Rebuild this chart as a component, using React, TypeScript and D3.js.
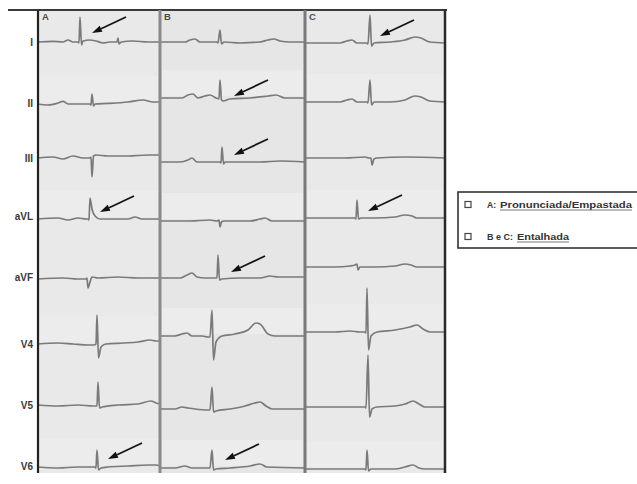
import React from "react";
import * as d3 from "d3";

// ---- data ----
const columns = ["A", "B", "C"];
const leads = ["I", "II", "III", "aVL", "aVF", "V4", "V5", "V6"];
// panel start time (ms) and duration (ms) on the strip
const panelStart = [0, 2440, 5340];
const panelDuration = [2440, 2900, 2800];
// lead baselines (row offset, mV-equivalent from top) per column
const baselineA = [1.6, 4.7, 7.4, 10.45, 13.45, 16.7, 19.75, 22.85];
const baselineB = [1.6, 4.4, 7.6, 10.55, 13.4, 16.3, 19.95, 22.9];
const baselineC = [1.65, 4.6, 7.4, 10.4, 12.85, 16.1, 19.85, 22.95];
const labelRows = [1.6, 4.65, 7.4, 10.3, 13.35, 16.7, 19.75, 22.8];

// traces: [ms, mV]
const traceA: [number, number][][] = [
  [[0,0],[300,0.03],[500,0],[600,0.1],[700,0],[800,0],[820,-0.05],[840,1.25],[870,-0.15],[900,0.05],[1040,0.1],[1160,0.05],[1300,-0.05],[1440,0],[1580,0],[1600,0.2],[1620,-0.1],[1660,0],[1900,0.05],[2200,0],[2440,0]],
  [[0,0],[200,-0.05],[400,0.05],[500,0.13],[600,0],[900,0],[1040,0],[1060,-0.05],[1080,0.5],[1110,-0.1],[1140,0],[1400,0.03],[1800,0.1],[2100,0.2],[2300,0.1],[2440,0.1]],
  [[0,0],[300,0.05],[500,-0.05],[700,0.1],[900,0],[1040,0],[1060,0.05],[1080,-0.95],[1110,0.1],[1160,0.15],[1400,0.1],[1800,0.1],[2200,0.15],[2440,0.15]],
  [[0,0],[400,0.05],[600,-0.05],[800,0.05],[960,0],[1000,0],[1020,-0.05],[1040,1.05],[1080,0.5],[1140,0.15],[1240,0],[1500,0],[1800,0],[1940,0.1],[2080,0],[2440,0]],
  [[0,0],[500,0.05],[800,0],[960,0],[980,0.05],[1000,-0.45],[1040,-0.15],[1080,0.1],[1200,0.05],[1600,0.1],[2000,0.05],[2440,0.05]],
  [[0,0],[400,0.05],[700,0],[1000,-0.05],[1120,-0.05],[1160,0],[1180,1.45],[1210,-0.7],[1260,-0.15],[1360,0],[1700,0.05],[2000,0.1],[2240,0.2],[2360,0.15],[2440,0.15]],
  [[0,0],[400,-0.05],[800,0],[1100,-0.05],[1180,-0.05],[1200,1.15],[1230,-0.15],[1280,-0.1],[1600,0],[2000,0.05],[2260,0.2],[2360,0.1],[2440,0.05]],
  [[0,0],[400,-0.05],[800,0],[1140,0],[1160,-0.05],[1180,0.85],[1210,-0.15],[1260,-0.05],[1400,0],[1800,0.05],[2200,0.1],[2360,0.1],[2440,0.05]],
];
const traceB: [number, number][][] = [
  [[0,0],[500,0],[600,0.1],[700,0.15],[800,0],[1140,0],[1160,-0.05],[1200,0.6],[1230,-0.1],[1280,0],[1600,-0.05],[2000,0],[2160,0.1],[2280,0.15],[2400,0.05],[2600,0],[2900,0]],
  [[0,0],[440,0],[560,0.15],[660,0.2],[760,0],[900,0.1],[1000,0.15],[1120,0],[1180,-0.05],[1200,0.9],[1230,-0.1],[1260,-0.15],[1400,-0.05],[1800,0],[2160,0.1],[2320,0.15],[2500,0],[2900,0]],
  [[0,0],[400,0],[560,0.1],[640,0.2],[740,0],[1000,0],[1200,0],[1220,-0.05],[1240,0.75],[1270,-0.1],[1300,0],[1600,0],[2000,0],[2400,0.05],[2900,0]],
  [[0,0],[600,0],[1000,0.05],[1140,0],[1180,0.05],[1200,-0.3],[1230,-0.05],[1280,0],[1800,0],[2000,0.1],[2100,0.15],[2240,0],[2900,0]],
  [[0,0],[400,0],[540,0.15],[640,0.25],[740,0.05],[900,0],[1100,0],[1140,0],[1160,1.15],[1190,-0.1],[1240,-0.05],[1600,0],[2000,0],[2200,0.1],[2360,0.05],[2900,0.05]],
  [[0,0],[300,0],[440,0.1],[540,0.15],[640,0],[840,0],[960,-0.05],[1000,-0.05],[1040,1.3],[1070,-1.2],[1120,-0.3],[1240,0],[1500,0.1],[1760,0.3],[1920,0.65],[2000,0.6],[2160,0.1],[2300,0],[2900,0]],
  [[0,0],[300,0],[440,0.1],[560,0.05],[700,0],[960,-0.05],[1000,-0.05],[1040,1.1],[1070,-0.15],[1120,-0.1],[1400,0],[1700,0.15],[1900,0.3],[2000,0.35],[2120,0.15],[2240,0],[2900,0]],
  [[0,0],[300,0],[500,0.1],[640,0],[960,0],[1000,0],[1040,0.9],[1070,-0.1],[1120,-0.05],[1400,0],[1800,0.1],[2000,0.2],[2140,0.05],[2900,0]],
];
const traceC: [number, number][][] = [
  [[0,0],[700,0],[840,0.1],[940,0.15],[1040,0],[1240,0],[1260,-0.05],[1300,1.4],[1330,-0.15],[1380,0],[1700,0.05],[2000,0.15],[2200,0.3],[2320,0.25],[2500,0.05],[2800,0]],
  [[0,0],[700,0],[840,0.1],[940,0.15],[1040,0],[1240,0],[1260,-0.05],[1300,1.1],[1330,-0.15],[1380,0],[1700,0],[2000,0.1],[2200,0.3],[2320,0.25],[2500,0.05],[2800,0]],
  [[0,0],[800,0],[1200,0.05],[1280,0],[1320,0],[1340,-0.35],[1380,-0.05],[1440,0],[2000,0.05],[2800,0]],
  [[0,0],[600,0],[900,0],[1000,0],[1020,-0.05],[1040,0.9],[1070,-0.05],[1120,0],[1400,0],[1800,0.05],[2000,0.15],[2140,0.1],[2240,0],[2800,0]],
  [[0,0],[600,0],[900,0.05],[1000,0.1],[1040,0.15],[1060,-0.15],[1100,0],[1400,0],[1800,0.05],[2000,0.15],[2120,0.1],[2240,0],[2800,0]],
  [[0,0],[600,0],[900,0.05],[1100,0],[1200,0],[1220,-0.05],[1240,2.2],[1270,-0.9],[1320,-0.2],[1440,0],[1800,0.1],[2100,0.25],[2240,0.35],[2360,0.15],[2500,0],[2800,0]],
  [[0,0],[600,0],[1000,0],[1200,0],[1220,-0.05],[1260,2.6],[1290,-0.5],[1340,-0.1],[1440,0],[1800,0.05],[2000,0.15],[2160,0.3],[2280,0.15],[2400,0],[2800,0]],
  [[0,0],[600,0],[1100,0],[1200,0],[1220,-0.05],[1240,0.95],[1270,-0.1],[1320,0],[1800,0],[2000,0.1],[2160,0.2],[2280,0.05],[2400,0],[2800,0]],
];
// arrows: [column index, lead index, ms, mV] at the arrow head
const arrows: [number, number, number, number][] = [
  [0, 0, 1080, 0.45],
  [0, 3, 1240, 0.35],
  [0, 7, 1400, 0.4],
  [1, 1, 1480, 0.1],
  [1, 2, 1480, 0.35],
  [1, 4, 1420, 0.3],
  [1, 7, 1300, 0.4],
  [2, 0, 1500, 0.35],
  [2, 3, 1260, 0.35],
];
const legendItems = [
  { prefix: "A:", term: "Pronunciada/Empastada" },
  { prefix: "B e C:", term: "Entalhada" },
];

const baselines = [baselineA, baselineB, baselineC];
const traces = [traceA, traceB, traceC];

export default function App() {
  const W = 637, H = 484;
  const x = d3.scaleLinear().domain([0, 8140]).range([38, 445]);
  const y = d3.scaleLinear().domain([0, 23.25]).range([10, 475]);
  const bottom = 473;

  const line = (col: number, lead: number) =>
    d3
      .line<[number, number]>()
      .x((d) => x(panelStart[col] + d[0]))
      .y((d) => y(baselines[col][lead] - d[1]))
      .curve(d3.curveMonotoneX)(traces[col][lead]) || "";

  const sep = [0, 1, 2].map((c) => x(panelStart[c]));
  const rightEdge = x(panelStart[2] + panelDuration[2]);

  return (
    <svg
      width={W}
      height={H}
      style={{ position: "absolute", left: 0, top: 0, background: "#fff" }}
      fontFamily="'Liberation Sans', Arial, sans-serif"
    >
      <defs>
        <filter id="soft" x="-5%" y="-5%" width="110%" height="110%">
          <feGaussianBlur stdDeviation="0.45" />
        </filter>
      </defs>
      <rect width={W} height={H} fill="#fff" />
      {/* panel backgrounds */}
      {columns.map((c, i) => (
        <rect
          key={c}
          x={x(panelStart[i])}
          y={y(0)}
          width={x(panelStart[i] + panelDuration[i]) - x(panelStart[i])}
          height={bottom - y(0)}
          fill={i === 1 ? "#e6e6e6" : "#e9e9e9"}
        />
      ))}
      {/* subtle row bands */}
      {columns.map((c, i) =>
        leads.map((l, j) =>
          j % 2 === 1 ? (
            <rect
              key={c + l}
              x={x(panelStart[i]) + 2}
              y={y(baselines[i][j]) - 28}
              width={x(panelStart[i] + panelDuration[i]) - x(panelStart[i]) - 4}
              height={26}
              fill="#ececec"
            />
          ) : null
        )
      )}
      {/* traces */}
      <g filter="url(#soft)">
        {columns.map((c, i) =>
          leads.map((l, j) => (
            <path
              key={c + l}
              d={line(i, j)}
              fill="none"
              stroke="#7a7a7a"
              strokeWidth={1.7}
              strokeLinejoin="round"
            />
          ))
        )}
      </g>
      {/* arrows */}
      {arrows.map(([ci, li, t, v], k) => {
        const hx = x(panelStart[ci] + t);
        const hy = y(baselines[ci][li] - v);
        const tx = hx + 34, ty = hy - 16;
        const ang = Math.atan2(ty - hy, tx - hx);
        const len = 10, wid = 3.2;
        const bx = hx + Math.cos(ang) * len, by = hy + Math.sin(ang) * len;
        const px = -Math.sin(ang) * wid, py = Math.cos(ang) * wid;
        return (
          <g key={k}>
            <line x1={bx} y1={by} x2={tx} y2={ty} stroke="#151515" strokeWidth={1.8} />
            <polygon
              points={`${hx},${hy} ${bx + px},${by + py} ${bx - px},${by - py}`}
              fill="#111"
            />
          </g>
        );
      })}
      {/* borders */}
      <line x1={8} y1={10} x2={447} y2={10} stroke="#3a3a3a" strokeWidth={2} />
      <line x1={sep[0]} y1={10} x2={sep[0]} y2={bottom} stroke="#222" strokeWidth={2.2} />
      <line x1={sep[1]} y1={10} x2={sep[1]} y2={bottom} stroke="#8a8a8a" strokeWidth={3} />
      <line x1={sep[2]} y1={10} x2={sep[2]} y2={bottom} stroke="#7a7a7a" strokeWidth={3} />
      <line x1={rightEdge} y1={10} x2={rightEdge} y2={bottom} stroke="#2a2a2a" strokeWidth={2.5} />
      {/* column letters */}
      {columns.map((c, i) => (
        <text
          key={c}
          x={x(panelStart[i]) + 4}
          y={20}
          fontSize={9.5}
          fontWeight="bold"
          fill="#4a4a4a"
        >
          {c}
        </text>
      ))}
      {/* lead labels */}
      {leads.map((l, j) => (
        <text
          key={l}
          x={33}
          y={y(labelRows[j])}
          dy="0.35em"
          textAnchor="end"
          fontSize={10}
          fontWeight="bold"
          fill="#3a3a3a"
        >
          {l}
        </text>
      ))}
      {/* legend */}
      <rect x={458} y={192} width={185} height={56} fill="#fff" stroke="#333" strokeWidth={1.6} />
      {legendItems.map((it, k) => {
        const cy = 205 + k * 32;
        const prefixW = k === 0 ? 9 : 26;
        const termW = k === 0 ? 132 : 52;
        return (
          <g key={k}>
            <rect x={465} y={cy - 3.5} width={6} height={6} fill="#fff" stroke="#444" strokeWidth={1.2} />
            <text x={487} y={cy} dy="0.35em" fontSize={9.5} fontWeight="bold" fill="#333" textLength={prefixW} lengthAdjust="spacingAndGlyphs">
              {it.prefix}
            </text>
            <text x={487 + prefixW + 4} y={cy} dy="0.35em" fontSize={9.5} fontWeight="bold" fill="#333" textLength={termW} lengthAdjust="spacingAndGlyphs">
              {it.term}
            </text>
            <line x1={487 + prefixW + 4} y1={cy + 5} x2={487 + prefixW + 4 + termW} y2={cy + 5} stroke="#555" strokeWidth={0.8} />
          </g>
        );
      })}
    </svg>
  );
}
